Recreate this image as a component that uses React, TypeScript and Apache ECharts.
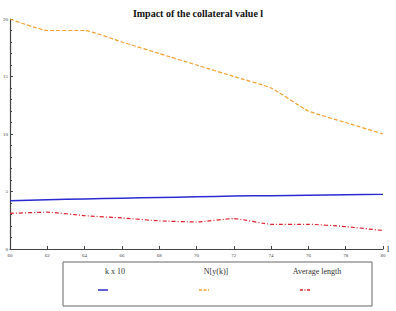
import React, { useEffect, useRef } from "react";
import * as echarts from "echarts";

// collateral value l
const lValues = [60, 62, 64, 66, 68, 70, 72, 74, 76, 78, 80];
const kTimes10 = [4.2, 4.28, 4.35, 4.42, 4.48, 4.54, 4.6, 4.64, 4.68, 4.72, 4.75];
const nYk = [20, 19, 19, 18, 17, 16, 15, 14, 12, 11, 10];
const avgLength = [3.1, 3.2, 2.9, 2.7, 2.45, 2.35, 2.65, 2.15, 2.15, 1.95, 1.6];

const seriesNames = ["k x 10", "N[y(k)]", "Average length"];
const colors = ["#2b2bd0", "#f5a030", "#e0202a"];
const lineTypes: any[] = ["solid", [4, 2], [4, 2, 1, 2]];

const xTicks = ["60", "62", "64", "66", "68", "70", "72", "74", "76", "78", "80"];

export default function App() {
  const ref = useRef<HTMLDivElement>(null);

  useEffect(() => {
    if (!ref.current) return;
    const chart = echarts.init(ref.current, null, { renderer: "svg" });
    const all = [kTimes10, nYk, avgLength];
    const legendX = [103, 204, 305];

    chart.setOption({
      animation: false,
      backgroundColor: "#ffffff",
      title: {
        text: "Impact of the collateral value l",
        left: "center",
        top: 3,
        textStyle: {
          fontFamily: "Liberation Serif",
          fontWeight: "bold",
          fontSize: 10,
          color: "#111",
        },
      },
      grid: { left: 8, right: 13, top: 19, bottom: 62 },
      xAxis: {
        type: "value",
        min: 60,
        max: 80,
        interval: 2,
        name: "l",
        nameLocation: "end",
        nameGap: 4,
        nameTextStyle: { fontFamily: "Liberation Serif", fontSize: 8, color: "#222", verticalAlign: "middle" },
        axisLine: { lineStyle: { color: "#444", width: 1.2 } },
        axisTick: { inside: true, length: 3, lineStyle: { color: "#444" } },
        axisLabel: {
          fontFamily: "Liberation Serif",
          fontSize: 5,
          color: "#444",
          margin: 4,
          formatter: (v: number) => xTicks[lValues.indexOf(v)] ?? "",
        },
        splitLine: { show: false },
      },
      yAxis: {
        type: "value",
        min: 0,
        max: 20,
        interval: 5,
        axisLine: { show: true, lineStyle: { color: "#444", width: 1.2 } },
        axisTick: { show: true, inside: true, length: 3, lineStyle: { color: "#444" } },
        minorTick: { show: true, splitNumber: 5, length: 2, lineStyle: { color: "#444" } },
        axisLabel: { fontFamily: "Liberation Serif", fontSize: 5, color: "#444", margin: 2 },
        splitLine: { show: false },
      },
      series: all.map((vals, i) => ({
        name: seriesNames[i],
        type: "line",
        data: lValues.map((x, j) => [x, vals[j]]),
        showSymbol: false,
        smooth: 0.15,
        lineStyle: { color: colors[i], width: i === 0 ? 1.5 : 1.2, type: lineTypes[i] },
        z: 3 - i,
      })),
      graphic: [
        {
          type: "rect",
          shape: { x: 63, y: 262, width: 309, height: 44 },
          style: { fill: "none", stroke: "#666", lineWidth: 1 },
        },
        ...seriesNames.map((name, i) => ({
          type: "text",
          x: legendX[i] + 12,
          y: 271,
          style: {
            text: name,
            fontFamily: "Liberation Serif",
            fontSize: 8,
            fill: "#333",
            align: "center",
            verticalAlign: "middle",
          },
        })),
        ...seriesNames.map((_, i) => ({
          type: "line",
          shape: { x1: legendX[i] - 5, y1: 290, x2: legendX[i] + 5, y2: 290 },
          style: {
            stroke: colors[i],
            lineWidth: 1.5,
            lineDash: i === 0 ? null : i === 1 ? [3, 1.5] : [3, 1.5, 1, 1.5],
          },
        })),
      ],
    });
    return () => chart.dispose();
  }, []);

  return <div ref={ref} style={{ width: 396, height: 311, position: "absolute", left: 0, top: 0 }} />;
}
